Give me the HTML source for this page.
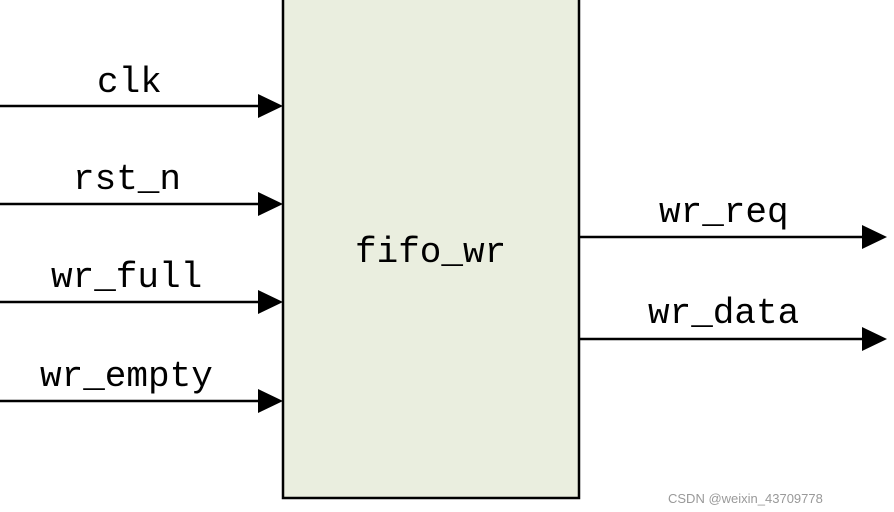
<!DOCTYPE html>
<html><head><meta charset="utf-8"><style>
html,body{margin:0;padding:0;background:#fff;}
svg{display:block;}
text{font-family:"Liberation Mono","Noto Serif CJK SC",monospace;font-size:36px;fill:#000;}
</style></head><body>
<svg width="894" height="512" viewBox="0 0 894 512" xmlns="http://www.w3.org/2000/svg">
<rect x="283" y="-5" width="296" height="503" fill="#eaeedf" stroke="#000" stroke-width="2.5"/>
<g stroke="#000" stroke-width="2.5">
<line x1="0" y1="106" x2="262" y2="106"/>
<line x1="0" y1="204" x2="262" y2="204"/>
<line x1="0" y1="302" x2="262" y2="302"/>
<line x1="0" y1="401" x2="262" y2="401"/>
<line x1="579" y1="237" x2="866" y2="237"/>
<line x1="579" y1="339" x2="866" y2="339"/>
</g>
<g fill="#000">
<polygon points="258,94 283,106 258,118"/>
<polygon points="258,192 283,204 258,216"/>
<polygon points="258,290 283,302 258,314"/>
<polygon points="258,389 283,401 258,413"/>
<polygon points="862,225 887,237 862,249"/>
<polygon points="862,327 887,339 862,351"/>
</g>
<text x="97" y="92">clk</text>
<text x="73" y="189">rst_n</text>
<text x="51" y="287">wr_full</text>
<text x="40" y="386">wr_empty</text>
<text x="659" y="222">wr_req</text>
<text x="648" y="323">wr_data</text>
<text x="355" y="262">fifo_wr</text>
<text x="668" y="503" style="font-family:'Liberation Sans',sans-serif;font-size:13px;fill:#999">CSDN @weixin_43709778</text>
</svg>
</body></html>
